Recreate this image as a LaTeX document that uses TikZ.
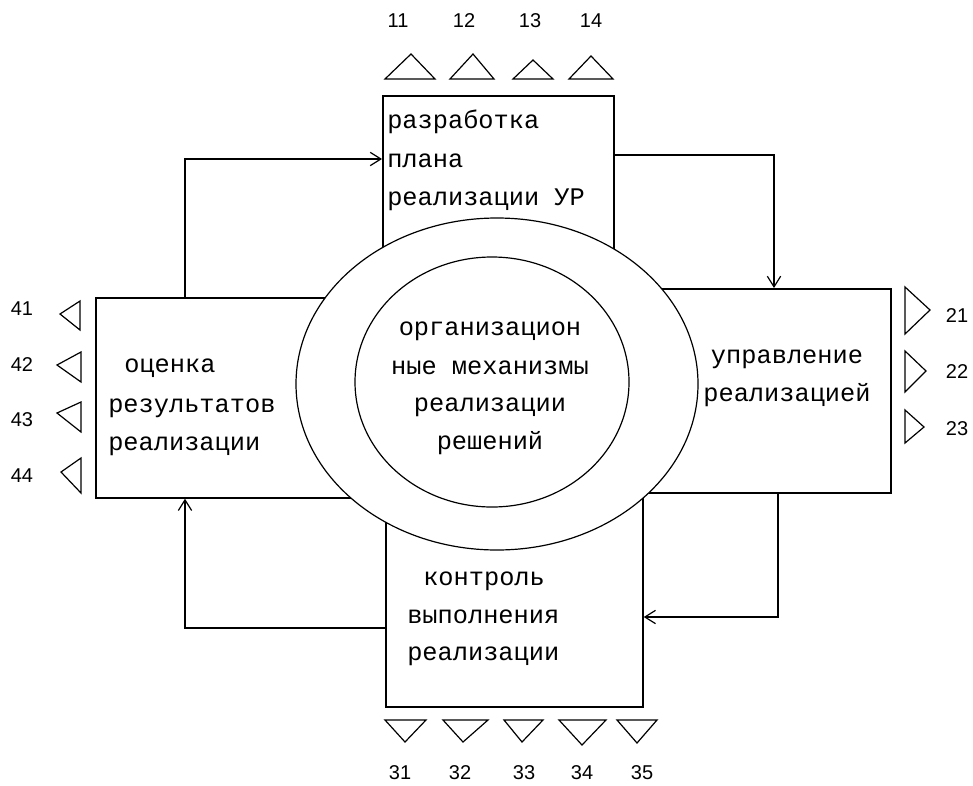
\documentclass[tikz,border=0pt]{standalone}
\usepackage{fontspec}
\setmainfont{Liberation Mono}
\newfontfamily\numfont{Liberation Sans}
\usetikzlibrary{arrows.meta,shapes.geometric}
\begin{document}
\begin{tikzpicture}[x=0.75pt,y=-0.75pt,
  boxst/.style={draw,line width=1.3pt,rectangle,inner sep=0pt},
  ell/.style={draw,fill=white,line width=0.9pt,ellipse,inner sep=0pt},
  conn/.style={line width=1.3pt,-{Straight Barb[length=8pt,width=10pt,line width=0.9pt]}},
  tri/.style={draw,line width=0.9pt},
  num/.style={font=\numfont\fontsize{15}{18}\selectfont,inner sep=0pt},
  lbl/.style={font=\fontsize{19}{28.5}\selectfont,inner sep=0pt,anchor=base west},
  lblc/.style={font=\fontsize{19}{28.5}\selectfont,inner sep=0pt,anchor=base}]
\useasboundingbox (0,0) rectangle (973,785);
% boxes
\node[boxst,minimum width=231*0.75pt,minimum height=215*0.75pt,anchor=north west] (tb) at (382,95) {};
\node[boxst,minimum width=320*0.75pt,minimum height=200*0.75pt,anchor=north west] (lb) at (95,297) {};
\node[boxst,minimum width=300*0.75pt,minimum height=204*0.75pt,anchor=north east] (rb) at (892,288) {};
\node[boxst,minimum width=257*0.75pt,minimum height=240*0.75pt,anchor=south west] (bb) at (385,708) {};
% connectors
\coordinate (c1) at (185,159);
\coordinate (c2) at (774,155);
\coordinate (c3) at (778,617);
\coordinate (c4) at (185,628);
\draw[conn] (lb.north -| c1) |- (tb.west |- c1);
\draw[conn] (tb.east |- c2) -| (rb.north -| c2);
\draw[conn] (rb.south -| c3) |- (bb.east |- c3);
\draw[conn] (bb.west |- c4) -| (lb.south -| c4);
% ellipses
\node[ell,minimum width=402*0.75pt,minimum height=332*0.75pt] (oe) at (497,384) {};
\node[ell,minimum width=274*0.75pt,minimum height=250*0.75pt] (ie) at (492,382) {};
% texts
\node[lbl] (t1) at (387,128) {разработка};
\node[lbl] (t2) at (387,167) {плана};
\node[lbl] (t3) at (387,205) {реализации УР};
\node[lblc] (m1) at (490,335) {организацион};
\node[lblc] (m2) at (490,374) {ные механизмы};
\node[lblc] (m3) at (490,411) {реализации};
\node[lblc] (m4) at (490,449) {решений};
\node[lblc] (r1) at (787,363) {управление};
\node[lblc] (r2) at (787,401) {реализацией};
\node[lbl] (l1) at (124,372) {оценка};
\node[lbl] (l2) at (108,412) {результатов};
\node[lbl] (l3) at (108,450) {реализации};
\node[lbl] (b1) at (423,585) {контроль};
\node[lbl] (b2) at (407,623) {выполнения};
\node[lbl] (b3) at (407,660) {реализации};
% top triangles
\draw[tri] (385,79) -- (411,54) -- (435,79) -- cycle;
\draw[tri] (450,79) -- (473,54) -- (494,79) -- cycle;
\draw[tri] (513,79) -- (533,60) -- (553,79) -- cycle;
\draw[tri] (569,79) -- (591,56) -- (613,79) -- cycle;
\node[num] (n11) at (398,21) {11};
\node[num] (n12) at (464,21) {12};
\node[num] (n13) at (530,21) {13};
\node[num] (n14) at (591,21) {14};
% right triangles
\draw[tri] (905,287) -- (930,310) -- (905,334) -- cycle;
\draw[tri] (905,351) -- (926,371) -- (905,392) -- cycle;
\draw[tri] (905,410) -- (924,427) -- (905,443) -- cycle;
\node[num] (n21) at (957,316) {21};
\node[num] (n22) at (957,372) {22};
\node[num] (n23) at (957,429) {23};
% left triangles
\draw[tri] (80,301) -- (60,314) -- (80,330) -- cycle;
\draw[tri] (81,352) -- (57,365) -- (81,382) -- cycle;
\draw[tri] (81,402) -- (57,413) -- (81,432) -- cycle;
\draw[tri] (81,458) -- (61,472) -- (81,493) -- cycle;
\node[num] (n41) at (22,309) {41};
\node[num] (n42) at (22,365) {42};
\node[num] (n43) at (22,420) {43};
\node[num] (n44) at (22,476) {44};
% bottom triangles
\draw[tri] (385,720) -- (405,742) -- (426,720) -- cycle;
\draw[tri] (443,720) -- (463,742) -- (488,720) -- cycle;
\draw[tri] (504,720) -- (522,742) -- (543,720) -- cycle;
\draw[tri] (559,720) -- (582,745) -- (606,720) -- cycle;
\draw[tri] (617,720) -- (637,743) -- (657,720) -- cycle;
\node[num] (n31) at (400,773) {31};
\node[num] (n32) at (460,773) {32};
\node[num] (n33) at (524,773) {33};
\node[num] (n34) at (582,773) {34};
\node[num] (n35) at (642,773) {35};
\end{tikzpicture}
\end{document}
